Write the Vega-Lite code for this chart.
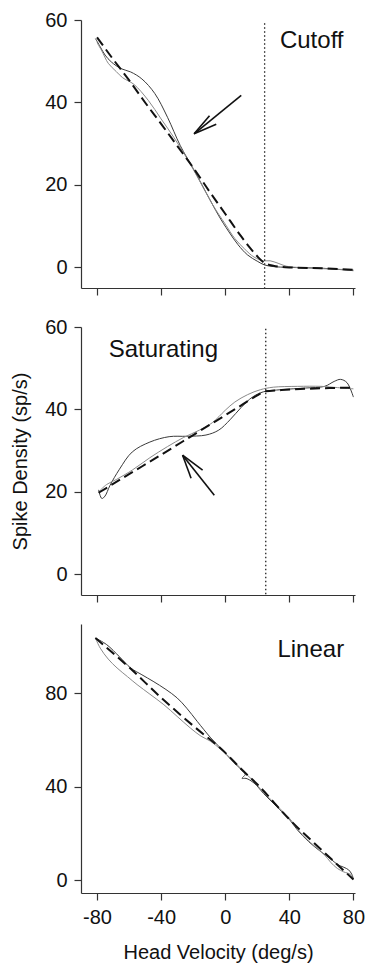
{
  "$schema": "https://vega.github.io/schema/vega-lite/v6.json",
  "padding": {"left": 10, "top": 10, "right": 0, "bottom": 5},
  "spacing": 21,
  "config": {
    "view": {"stroke": null},
    "font": "Liberation Sans",
    "axis": {"grid": false, "domainColor": "#333", "tickColor": "#333", "domainWidth": 1.2, "tickWidth": 1.2, "tickSize": 7, "labelColor": "#111", "labelFont": "Liberation Sans", "labelFontSize": 20, "labelPadding": 7, "titleFont": "Liberation Sans", "titleFontSize": 20, "titleFontWeight": "normal", "titleColor": "#111", "labelExpr": "'' + datum.value"},
    "axisY": {"titlePadding": 14},
    "axisX": {"titlePadding": 15}
  },
  "datasets": {
    "curves": [
      {"panel": 1, "series": "A", "v": -81, "r": 55.5}, {"panel": 1, "series": "A", "v": -78, "r": 53.5}, {"panel": 1, "series": "A", "v": -75, "r": 51.5}, {"panel": 1, "series": "A", "v": -71, "r": 49.8}, {"panel": 1, "series": "A", "v": -65, "r": 48.2}, {"panel": 1, "series": "A", "v": -59, "r": 47.4}, {"panel": 1, "series": "A", "v": -52, "r": 45.7}, {"panel": 1, "series": "A", "v": -44, "r": 42.2}, {"panel": 1, "series": "A", "v": -36, "r": 36.4}, {"panel": 1, "series": "A", "v": -28, "r": 29.5}, {"panel": 1, "series": "A", "v": -20, "r": 24}, {"panel": 1, "series": "A", "v": -12, "r": 18.2}, {"panel": 1, "series": "A", "v": -4, "r": 12.5}, {"panel": 1, "series": "A", "v": 2, "r": 8.8}, {"panel": 1, "series": "A", "v": 8, "r": 5.5}, {"panel": 1, "series": "A", "v": 14, "r": 3}, {"panel": 1, "series": "A", "v": 20, "r": 1.5}, {"panel": 1, "series": "A", "v": 24.5, "r": 0.6}, {"panel": 1, "series": "A", "v": 30, "r": 0.2}, {"panel": 1, "series": "A", "v": 40, "r": 0}, {"panel": 1, "series": "A", "v": 60, "r": -0.2}, {"panel": 1, "series": "A", "v": 80, "r": -0.8},
      {"panel": 1, "series": "B", "v": -80, "r": 54.5}, {"panel": 1, "series": "B", "v": -77, "r": 52.5}, {"panel": 1, "series": "B", "v": -73, "r": 49.5}, {"panel": 1, "series": "B", "v": -68, "r": 47.5}, {"panel": 1, "series": "B", "v": -64, "r": 46}, {"panel": 1, "series": "B", "v": -57, "r": 44.4}, {"panel": 1, "series": "B", "v": -48, "r": 40.5}, {"panel": 1, "series": "B", "v": -40, "r": 36}, {"panel": 1, "series": "B", "v": -32, "r": 31.5}, {"panel": 1, "series": "B", "v": -24, "r": 26.5}, {"panel": 1, "series": "B", "v": -16, "r": 21}, {"panel": 1, "series": "B", "v": -8, "r": 15.3}, {"panel": 1, "series": "B", "v": 0, "r": 10.5}, {"panel": 1, "series": "B", "v": 6, "r": 7}, {"panel": 1, "series": "B", "v": 12, "r": 4.5}, {"panel": 1, "series": "B", "v": 18, "r": 2.5}, {"panel": 1, "series": "B", "v": 24, "r": 1.6}, {"panel": 1, "series": "B", "v": 28, "r": 1.6}, {"panel": 1, "series": "B", "v": 33, "r": 1}, {"panel": 1, "series": "B", "v": 38, "r": 0.3}, {"panel": 1, "series": "B", "v": 45, "r": 0}, {"panel": 1, "series": "B", "v": 60, "r": -0.3}, {"panel": 1, "series": "B", "v": 80, "r": -0.6},
      {"panel": 2, "series": "A", "v": -79, "r": 20.5}, {"panel": 2, "series": "A", "v": -77, "r": 18.4}, {"panel": 2, "series": "A", "v": -75, "r": 19}, {"panel": 2, "series": "A", "v": -72, "r": 21.5}, {"panel": 2, "series": "A", "v": -66, "r": 25.5}, {"panel": 2, "series": "A", "v": -58, "r": 29.7}, {"panel": 2, "series": "A", "v": -47, "r": 32.1}, {"panel": 2, "series": "A", "v": -35, "r": 33.4}, {"panel": 2, "series": "A", "v": -24, "r": 33.5}, {"panel": 2, "series": "A", "v": -12, "r": 33.8}, {"panel": 2, "series": "A", "v": -4, "r": 35}, {"panel": 2, "series": "A", "v": 3, "r": 37.5}, {"panel": 2, "series": "A", "v": 10, "r": 40.5}, {"panel": 2, "series": "A", "v": 17, "r": 43}, {"panel": 2, "series": "A", "v": 24, "r": 44.3}, {"panel": 2, "series": "A", "v": 35, "r": 44.8}, {"panel": 2, "series": "A", "v": 50, "r": 45.2}, {"panel": 2, "series": "A", "v": 62, "r": 45.6}, {"panel": 2, "series": "A", "v": 68, "r": 46.8}, {"panel": 2, "series": "A", "v": 72, "r": 47.3}, {"panel": 2, "series": "A", "v": 76, "r": 46.5}, {"panel": 2, "series": "A", "v": 80, "r": 43},
      {"panel": 2, "series": "B", "v": -79, "r": 20}, {"panel": 2, "series": "B", "v": -74, "r": 21.8}, {"panel": 2, "series": "B", "v": -68, "r": 23}, {"panel": 2, "series": "B", "v": -58, "r": 25.3}, {"panel": 2, "series": "B", "v": -47, "r": 28.3}, {"panel": 2, "series": "B", "v": -36, "r": 31}, {"panel": 2, "series": "B", "v": -26, "r": 33.2}, {"panel": 2, "series": "B", "v": -16, "r": 35}, {"panel": 2, "series": "B", "v": -8, "r": 36.8}, {"panel": 2, "series": "B", "v": 0, "r": 39.8}, {"panel": 2, "series": "B", "v": 6, "r": 41.8}, {"panel": 2, "series": "B", "v": 14, "r": 43.6}, {"panel": 2, "series": "B", "v": 22, "r": 44.8}, {"panel": 2, "series": "B", "v": 30, "r": 45.4}, {"panel": 2, "series": "B", "v": 45, "r": 45.6}, {"panel": 2, "series": "B", "v": 60, "r": 45.6}, {"panel": 2, "series": "B", "v": 70, "r": 45.3}, {"panel": 2, "series": "B", "v": 80, "r": 45},
      {"panel": 3, "series": "A", "v": -81, "r": 103.5}, {"panel": 3, "series": "A", "v": -74, "r": 100.7}, {"panel": 3, "series": "A", "v": -66, "r": 95.5}, {"panel": 3, "series": "A", "v": -59, "r": 90.7}, {"panel": 3, "series": "A", "v": -52, "r": 87.8}, {"panel": 3, "series": "A", "v": -45, "r": 85}, {"panel": 3, "series": "A", "v": -37, "r": 81.5}, {"panel": 3, "series": "A", "v": -30, "r": 77.9}, {"panel": 3, "series": "A", "v": -24, "r": 73.5}, {"panel": 3, "series": "A", "v": -17.5, "r": 67.9}, {"panel": 3, "series": "A", "v": -9, "r": 60.8}, {"panel": 3, "series": "A", "v": -3, "r": 56.5}, {"panel": 3, "series": "A", "v": 3, "r": 52}, {"panel": 3, "series": "A", "v": 8, "r": 48.6}, {"panel": 3, "series": "A", "v": 11, "r": 46.5}, {"panel": 3, "series": "A", "v": 12.5, "r": 45.2}, {"panel": 3, "series": "A", "v": 10.5, "r": 43.5}, {"panel": 3, "series": "A", "v": 13, "r": 43.5}, {"panel": 3, "series": "A", "v": 18, "r": 41.5}, {"panel": 3, "series": "A", "v": 24, "r": 37}, {"panel": 3, "series": "A", "v": 32, "r": 31.5}, {"panel": 3, "series": "A", "v": 40, "r": 26}, {"panel": 3, "series": "A", "v": 45, "r": 21.5}, {"panel": 3, "series": "A", "v": 52, "r": 16.5}, {"panel": 3, "series": "A", "v": 60, "r": 12}, {"panel": 3, "series": "A", "v": 66, "r": 9}, {"panel": 3, "series": "A", "v": 70, "r": 6.7}, {"panel": 3, "series": "A", "v": 74, "r": 5.5}, {"panel": 3, "series": "A", "v": 77, "r": 4.4}, {"panel": 3, "series": "A", "v": 79, "r": 2.5}, {"panel": 3, "series": "A", "v": 80, "r": 0.5},
      {"panel": 3, "series": "B", "v": -81, "r": 103.5}, {"panel": 3, "series": "B", "v": -78, "r": 99.2}, {"panel": 3, "series": "B", "v": -73, "r": 94.5}, {"panel": 3, "series": "B", "v": -67.5, "r": 90.7}, {"panel": 3, "series": "B", "v": -61, "r": 87}, {"panel": 3, "series": "B", "v": -55, "r": 83.6}, {"panel": 3, "series": "B", "v": -47, "r": 79.5}, {"panel": 3, "series": "B", "v": -38.3, "r": 75}, {"panel": 3, "series": "B", "v": -30, "r": 70}, {"panel": 3, "series": "B", "v": -21.7, "r": 65}, {"panel": 3, "series": "B", "v": -15, "r": 61.5}, {"panel": 3, "series": "B", "v": -9.2, "r": 59.4}, {"panel": 3, "series": "B", "v": -3, "r": 56}, {"panel": 3, "series": "B", "v": 2, "r": 53}, {"panel": 3, "series": "B", "v": 8, "r": 49}, {"panel": 3, "series": "B", "v": 12, "r": 46}, {"panel": 3, "series": "B", "v": 16, "r": 43.5}, {"panel": 3, "series": "B", "v": 24, "r": 37.5}, {"panel": 3, "series": "B", "v": 32, "r": 32}, {"panel": 3, "series": "B", "v": 40, "r": 26.5}, {"panel": 3, "series": "B", "v": 48, "r": 19.5}, {"panel": 3, "series": "B", "v": 55, "r": 15}, {"panel": 3, "series": "B", "v": 61.7, "r": 11}, {"panel": 3, "series": "B", "v": 66, "r": 7.5}, {"panel": 3, "series": "B", "v": 70, "r": 5}, {"panel": 3, "series": "B", "v": 74, "r": 3.5}, {"panel": 3, "series": "B", "v": 78, "r": 2.5}, {"panel": 3, "series": "B", "v": 80, "r": 0.3}
    ],
    "fits": [
      {"panel": 1, "v": -80, "r": 55.8}, {"panel": 1, "v": -70, "r": 50.5}, {"panel": 1, "v": -60, "r": 45.4}, {"panel": 1, "v": -50, "r": 40}, {"panel": 1, "v": -40, "r": 34.8}, {"panel": 1, "v": -30, "r": 29.5}, {"panel": 1, "v": -20, "r": 24.2}, {"panel": 1, "v": -10, "r": 18.5}, {"panel": 1, "v": 0, "r": 13}, {"panel": 1, "v": 10, "r": 7.5}, {"panel": 1, "v": 16, "r": 4.5}, {"panel": 1, "v": 20, "r": 2.7}, {"panel": 1, "v": 24, "r": 1.2}, {"panel": 1, "v": 30, "r": 0.4}, {"panel": 1, "v": 40, "r": 0}, {"panel": 1, "v": 60, "r": -0.2}, {"panel": 1, "v": 80, "r": -0.6},
      {"panel": 2, "v": -79, "r": 19.8}, {"panel": 2, "v": -60, "r": 24.3}, {"panel": 2, "v": -40, "r": 29}, {"panel": 2, "v": -20, "r": 33.8}, {"panel": 2, "v": 0, "r": 38.6}, {"panel": 2, "v": 10, "r": 41}, {"panel": 2, "v": 20, "r": 43.4}, {"panel": 2, "v": 25, "r": 44.4}, {"panel": 2, "v": 35, "r": 44.7}, {"panel": 2, "v": 50, "r": 45}, {"panel": 2, "v": 65, "r": 45.2}, {"panel": 2, "v": 80, "r": 45.3},
      {"panel": 3, "v": -81, "r": 103.5}, {"panel": 3, "v": -60, "r": 91}, {"panel": 3, "v": -40, "r": 78}, {"panel": 3, "v": -20, "r": 66}, {"panel": 3, "v": 0, "r": 54.5}, {"panel": 3, "v": 10, "r": 47.5}, {"panel": 3, "v": 20, "r": 41}, {"panel": 3, "v": 40, "r": 26}, {"panel": 3, "v": 60, "r": 13}, {"panel": 3, "v": 80, "r": 0.3}
    ],
    "segments": [
      {"panel": 1, "kind": "cutoff", "v": 24.6, "r": 59.2, "v2": 24.6, "r2": -5},
      {"panel": 2, "kind": "cutoff", "v": 25.3, "r": 59.6, "v2": 25.3, "r2": -5},
      {"panel": 1, "kind": "arrow", "v": 10, "r": 41.7, "v2": -19.4, "r2": 32.4},
      {"panel": 1, "kind": "arrow", "v": -9.8, "r": 36.8, "v2": -19.4, "r2": 32.4},
      {"panel": 1, "kind": "arrow", "v": -5.6, "r": 34.7, "v2": -19.4, "r2": 32.4},
      {"panel": 2, "kind": "arrow", "v": -6.8, "r": 19.2, "v2": -26.6, "r2": 28.9},
      {"panel": 2, "kind": "arrow", "v": -14.1, "r": 25.3, "v2": -26.6, "r2": 28.9},
      {"panel": 2, "kind": "arrow", "v": -21.3, "r": 23.3, "v2": -26.6, "r2": 28.9}
    ],
    "labels": [
      {"panel": 1, "v": 54, "r": 55, "label": "Cutoff"},
      {"panel": 2, "v": -38.6, "r": 54.4, "label": "Saturating"},
      {"panel": 3, "v": 53.4, "r": 98.2, "label": "Linear"}
    ]
  },
  "vconcat": [
    {
      "width": 274, "height": 268,
      "layer": [
        {"data": {"name": "curves"}, "transform": [{"filter": "datum.panel == 1"}], "mark": {"type": "line", "strokeWidth": 1, "interpolate": "catmull-rom"},
          "encoding": {
            "x": {"field": "v", "type": "quantitative", "scale": {"domain": [-90, 81], "nice": false, "zero": false}, "axis": {"values": [-80, -40, 0, 40, 80], "labels": false, "title": null}},
            "y": {"field": "r", "type": "quantitative", "scale": {"domain": [-5, 60], "nice": false, "zero": false}, "axis": {"values": [0, 20, 40, 60], "title": null}},
            "color": {"field": "series", "type": "nominal", "scale": {"domain": ["A", "B"], "range": ["#3a3a3a", "#8a8a8a"]}, "legend": null},
            "order": {"value": null}}},
        {"data": {"name": "fits"}, "transform": [{"filter": "datum.panel == 1"}], "mark": {"type": "line", "strokeWidth": 2, "strokeDash": [10, 5], "color": "#111", "interpolate": "monotone"},
          "encoding": {"x": {"field": "v", "type": "quantitative"}, "y": {"field": "r", "type": "quantitative"}}},
        {"data": {"name": "segments"}, "transform": [{"filter": "datum.panel == 1 && datum.kind == 'cutoff'"}], "mark": {"type": "rule", "strokeWidth": 1.3, "strokeDash": [1.5, 2.5], "color": "#222"},
          "encoding": {"x": {"field": "v", "type": "quantitative"}, "y": {"field": "r", "type": "quantitative"}, "x2": {"field": "v2"}, "y2": {"field": "r2"}}},
        {"data": {"name": "segments"}, "transform": [{"filter": "datum.panel == 1 && datum.kind == 'arrow'"}], "mark": {"type": "rule", "strokeWidth": 1.6, "color": "#111"},
          "encoding": {"x": {"field": "v", "type": "quantitative"}, "y": {"field": "r", "type": "quantitative"}, "x2": {"field": "v2"}, "y2": {"field": "r2"}}},
        {"data": {"name": "labels"}, "transform": [{"filter": "datum.panel == 1"}], "mark": {"type": "text", "fontSize": 24, "font": "Liberation Sans", "color": "#111", "align": "center", "baseline": "middle"},
          "encoding": {"x": {"field": "v", "type": "quantitative"}, "y": {"field": "r", "type": "quantitative"}, "text": {"field": "label"}}}
      ]
    },
    {
      "width": 274, "height": 268,
      "layer": [
        {"data": {"name": "curves"}, "transform": [{"filter": "datum.panel == 2"}], "mark": {"type": "line", "strokeWidth": 1, "interpolate": "catmull-rom"},
          "encoding": {
            "x": {"field": "v", "type": "quantitative", "scale": {"domain": [-90, 81], "nice": false, "zero": false}, "axis": {"values": [-80, -40, 0, 40, 80], "labels": false, "title": null}},
            "y": {"field": "r", "type": "quantitative", "scale": {"domain": [-5, 60], "nice": false, "zero": false}, "axis": {"values": [0, 20, 40, 60], "title": "Spike Density (sp/s)"}},
            "color": {"field": "series", "type": "nominal", "scale": {"domain": ["A", "B"], "range": ["#3a3a3a", "#8a8a8a"]}, "legend": null},
            "order": {"value": null}}},
        {"data": {"name": "fits"}, "transform": [{"filter": "datum.panel == 2"}], "mark": {"type": "line", "strokeWidth": 2, "strokeDash": [10, 5], "color": "#111", "interpolate": "monotone"},
          "encoding": {"x": {"field": "v", "type": "quantitative"}, "y": {"field": "r", "type": "quantitative"}}},
        {"data": {"name": "segments"}, "transform": [{"filter": "datum.panel == 2 && datum.kind == 'cutoff'"}], "mark": {"type": "rule", "strokeWidth": 1.3, "strokeDash": [1.5, 2.5], "color": "#222"},
          "encoding": {"x": {"field": "v", "type": "quantitative"}, "y": {"field": "r", "type": "quantitative"}, "x2": {"field": "v2"}, "y2": {"field": "r2"}}},
        {"data": {"name": "segments"}, "transform": [{"filter": "datum.panel == 2 && datum.kind == 'arrow'"}], "mark": {"type": "rule", "strokeWidth": 1.6, "color": "#111"},
          "encoding": {"x": {"field": "v", "type": "quantitative"}, "y": {"field": "r", "type": "quantitative"}, "x2": {"field": "v2"}, "y2": {"field": "r2"}}},
        {"data": {"name": "labels"}, "transform": [{"filter": "datum.panel == 2"}], "mark": {"type": "text", "fontSize": 24, "font": "Liberation Sans", "color": "#111", "align": "center", "baseline": "middle"},
          "encoding": {"x": {"field": "v", "type": "quantitative"}, "y": {"field": "r", "type": "quantitative"}, "text": {"field": "label"}}}
      ]
    },
    {
      "width": 274, "height": 269,
      "layer": [
        {"data": {"name": "curves"}, "transform": [{"filter": "datum.panel == 3"}], "mark": {"type": "line", "strokeWidth": 1, "interpolate": "catmull-rom"},
          "encoding": {
            "x": {"field": "v", "type": "quantitative", "scale": {"domain": [-90, 81], "nice": false, "zero": false}, "axis": {"values": [-80, -40, 0, 40, 80], "title": "Head Velocity (deg/s)"}},
            "y": {"field": "r", "type": "quantitative", "scale": {"domain": [-5.5, 109.5], "nice": false, "zero": false}, "axis": {"values": [0, 40, 80], "title": null}},
            "color": {"field": "series", "type": "nominal", "scale": {"domain": ["A", "B"], "range": ["#3a3a3a", "#8a8a8a"]}, "legend": null},
            "order": {"value": null}}},
        {"data": {"name": "fits"}, "transform": [{"filter": "datum.panel == 3"}], "mark": {"type": "line", "strokeWidth": 2, "strokeDash": [10, 5], "color": "#111", "interpolate": "monotone"},
          "encoding": {"x": {"field": "v", "type": "quantitative"}, "y": {"field": "r", "type": "quantitative"}}},
        {"data": {"name": "labels"}, "transform": [{"filter": "datum.panel == 3"}], "mark": {"type": "text", "fontSize": 24, "font": "Liberation Sans", "color": "#111", "align": "center", "baseline": "middle"},
          "encoding": {"x": {"field": "v", "type": "quantitative"}, "y": {"field": "r", "type": "quantitative"}, "text": {"field": "label"}}}
      ]
    }
  ]
}
